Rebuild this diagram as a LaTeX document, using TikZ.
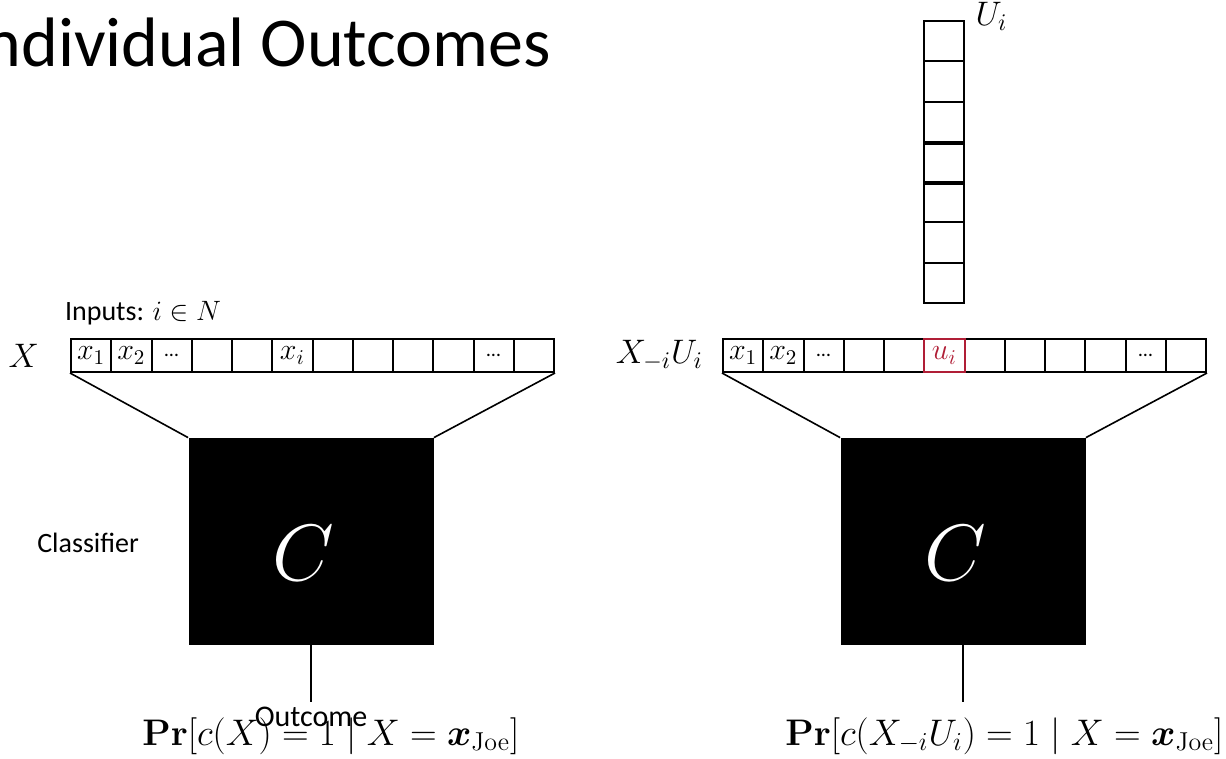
\RequirePackage{fix-cm}
\documentclass[tikz,border=0pt]{standalone}
\usepackage{amsmath}
\usepackage[no-math]{fontspec}
\setmainfont{Carlito}
\usetikzlibrary{positioning}
\definecolor{cellred}{HTML}{B01E36}
\newcommand{\celldots}{{\fontsize{10}{10}\selectfont\ldots}}

\begin{document}
\begin{tikzpicture}[x=0.5pt, y=-0.5pt,
    cell/.style={draw, line width=1pt, minimum width=20.125pt, minimum height=16.5pt,
        inner sep=0pt, anchor=north west, font=\fontsize{15}{15}\selectfont},
    ucell/.style={draw, line width=1pt, minimum width=19.75pt, minimum height=20.15pt,
        inner sep=0pt, anchor=north west},
    clf/.style={fill=black, minimum width=122.5pt, minimum height=103.5pt},
    bigC/.style={text=white, font=\fontsize{40}{40}\selectfont},
    small/.style={font=\fontsize{14}{16}\selectfont},
    lbl/.style={font=\fontsize{17}{19}\selectfont},
    prob/.style={font=\fontsize{18.5}{20}\selectfont, anchor=base west, inner sep=0pt},
    wire/.style={line width=0.8pt}]
    \useasboundingbox (0,0) rectangle (1226,759);

    % title, cut at the left edge
    \node[anchor=base west, font=\fontsize{35}{37}\selectfont] (ttl) at (-40,67) {Individual Outcomes};

    % input vector X
    \foreach \k/\txt in {1/{$x_1$},2/{$x_2$},3/{\celldots},4/{},5/{},6/{$x_i$},
                         7/{},8/{},9/{},10/{},11/{\celldots},12/{}}
        \node[cell] (L\k) at ({70+(\k-1)*40.25},338) {\txt};
    \node[lbl, left=12pt of L1] (XL) {$X$};
    \node[small, anchor=south west] (inp) at (58,332) {Inputs: $i \in N$};

    % perturbed vector
    \foreach \k/\txt in {1/{$x_1$},2/{$x_2$},3/{\celldots},4/{},5/{},
                         7/{},8/{},9/{},10/{},11/{\celldots},12/{}}
        \node[cell] (R\k) at ({722+(\k-1)*40.25},338) {\txt};
    \node[cell, draw=cellred, text=cellred] (R6) at ({722+5*40.25},338) {$u_i$};
    \node[lbl, left=6pt of R1] (XR) {$X_{-i}U_i$};

    % random column U_i
    \foreach \k in {1,...,7}
        \node[ucell] (U\k) at (923,{20+(\k-1)*40.3}) {};
    \draw[line width=1.8pt] (U3.south west) -- (U3.south east);
    \draw[line width=1.8pt] (U4.south west) -- (U4.south east);
    \node[lbl, right=2pt of U1.north east, yshift=2pt] (Ulab) {$U_i$};

    % classifiers
    \node[clf] (clfL) at (311,541.5) {};
    \node[clf] (clfR) at (963,541.5) {};
    \node[bigC] (cL) at ([xshift=-4pt, yshift=-6pt]clfL.center) {$C$};
    \node[bigC] (cR) at ([xshift=-4pt, yshift=-6pt]clfR.center) {$C$};
    \node[small, anchor=east] (clfname) at (146,543) {Classifier};

    \draw[wire] (L1.south west) -- (clfL.north west);
    \draw[wire] (L12.south east) -- (clfL.north east);
    \draw[wire] (R1.south west) -- (clfR.north west);
    \draw[wire] (R12.south east) -- (clfR.north east);

    % outcomes
    \coordinate (outL) at (311,702);
    \coordinate (outR) at (963,702);
    \draw[wire] (clfL.south) -- (outL);
    \draw[wire] (clfR.south) -- (outR);
    \node[prob] (prL) at (142,745) {$\mathbf{Pr}[c(X) = 1 \mid X = \boldsymbol{x}_{\mathrm{Joe}}]$};
    \node[prob] (prR) at (785,745) {$\mathbf{Pr}[c(X_{-i}U_i) = 1 \mid X = \boldsymbol{x}_{\mathrm{Joe}}]$};
    \node[font=\fontsize{15}{17}\selectfont, below=-1pt of outL] (outlbl) {Outcome};
\end{tikzpicture}
\end{document}
